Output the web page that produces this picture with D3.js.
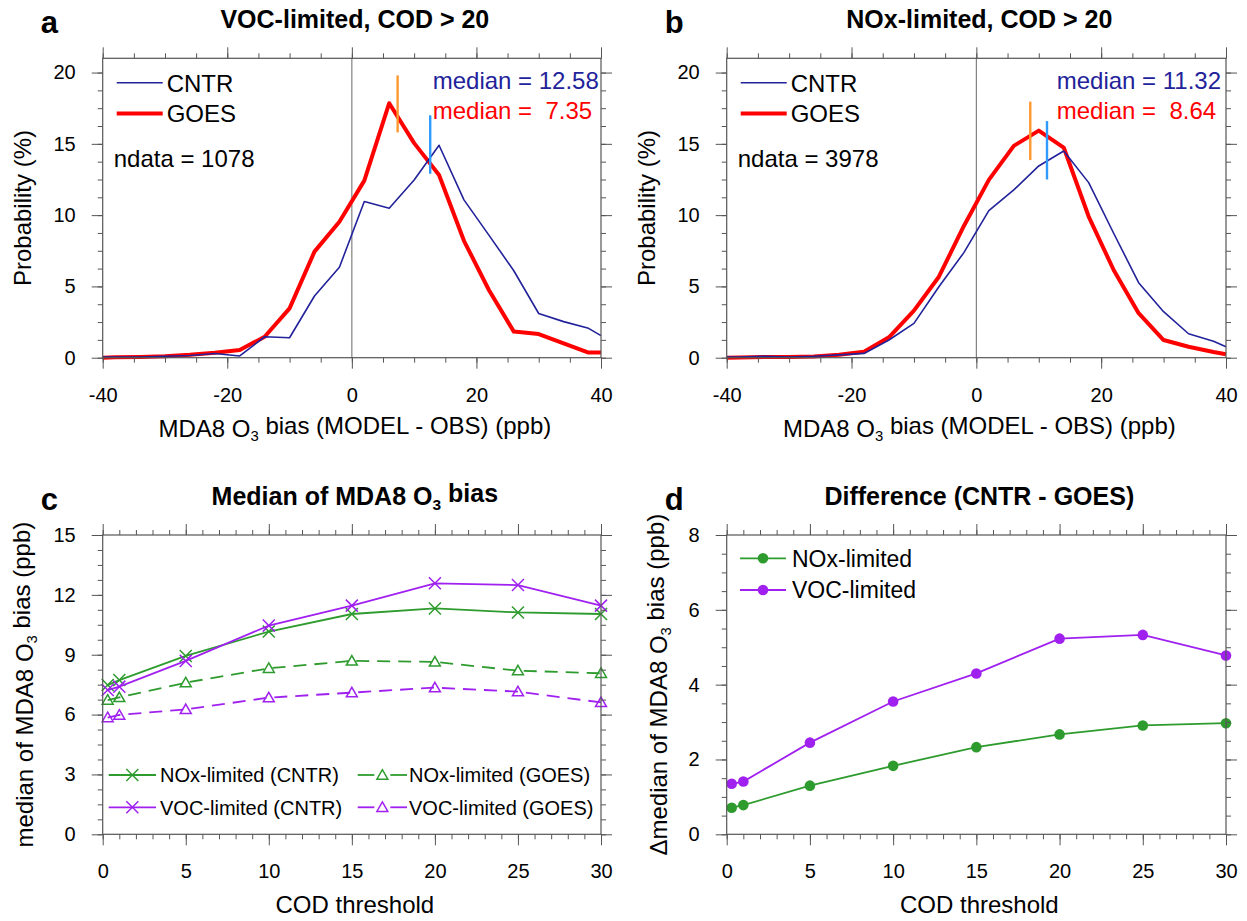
<!DOCTYPE html>
<html><head><meta charset="utf-8">
<script src="https://cdn.jsdelivr.net/npm/d3@7"></script>
<style>
body{margin:0;background:#fff;}
svg text{font-family:"Liberation Sans",Arial,Helvetica,sans-serif;}
</style></head><body>
<svg id="chart" width="1247" height="921" xmlns="http://www.w3.org/2000/svg"></svg>
<script>
// ---------------- data ----------------
const biasX   = [-40,-38,-34,-30,-26,-22,-18,-14,-10,-6,-2,2,6,10,14,18,22,26,30,34,38,40];
const vocCNTR = [0.05,0.05,0.05,0.1,0.15,0.3,0.12,1.47,1.4,4.33,6.34,10.95,10.48,12.46,14.9,11.07,8.6,6.1,3.1,2.53,2.06,1.55];
const vocGOES = [0.0,0.03,0.05,0.1,0.2,0.35,0.54,1.47,3.46,7.44,9.54,12.42,17.85,15.05,12.82,8.2,4.75,1.83,1.66,1.0,0.36,0.36];
const noxCNTR = [0.05,0.05,0.1,0.05,0.1,0.2,0.3,1.24,2.41,4.98,7.37,10.32,11.77,13.45,14.5,12.28,8.73,5.26,3.23,1.68,1.15,0.77];
const noxGOES = [0.0,0.02,0.05,0.05,0.08,0.2,0.42,1.43,3.3,5.68,9.24,12.47,14.86,15.93,14.74,9.9,6.15,3.12,1.24,0.77,0.4,0.24];

const histTitles  = ["VOC-limited, COD > 20", "NOx-limited, COD > 20"];
const histLetters = ["a", "b"];
const ndata       = [1078, 3978];
const medianCNTR  = [12.58, 11.32];
const medianGOES  = [7.35, 8.64];
const medMarkCNTR = [[12.9, 17.0], [12.5, 16.6]];
const medMarkGOES = [[15.8, 19.8], [13.86, 17.96]];
const seriesNames = ["CNTR", "GOES"];

const cod        = [0.3, 1, 5, 10, 15, 20, 25, 30];
const noxCNTRmed = [7.48, 7.73, 8.94, 10.16, 11.04, 11.32, 11.12, 11.04];
const vocCNTRmed = [7.23, 7.40, 8.69, 10.46, 11.46, 12.58, 12.49, 11.46];
const noxGOESmed = [6.73, 6.86, 7.60, 8.32, 8.69, 8.64, 8.20, 8.07];
const vocGOESmed = [5.85, 5.98, 6.26, 6.85, 7.10, 7.35, 7.15, 6.61];
const cLegend    = ["NOx-limited (CNTR)", "NOx-limited (GOES)", "VOC-limited (CNTR)", "VOC-limited (GOES)"];

const noxDiff = [0.71, 0.78, 1.30, 1.83, 2.33, 2.67, 2.91, 2.97];
const vocDiff = [1.35, 1.41, 2.45, 3.55, 4.30, 5.23, 5.33, 4.78];
const dLegend = ["NOx-limited", "VOC-limited"];

// ---------------- style ----------------
const FONT = '"Liberation Sans", Arial, Helvetica, sans-serif';
const C_BLUE = "#22229a", C_RED = "#ff0000", C_ORANGE = "#ff982e", C_LBLUE = "#2f9bff";
const C_GREEN = "#2e9b2e", C_PURPLE = "#a020f0", C_FRAME = "#555";

const svg = d3.select("#chart");
svg.append("rect").attr("width",1247).attr("height",921).attr("fill","#fff");

const frames = {
  a: {l:102.7, r:601,  t:58.3, b:357.7},
  b: {l:726.7, r:1226, t:58.3, b:357.7},
  c: {l:102.7, r:601,  t:535,  b:834.3},
  d: {l:726.7, r:1226, t:535,  b:834.3}
};

function richText(sel, parts) {
  parts.forEach(p => {
    const t = sel.append("tspan").text(p[0]);
    if (p[1] === "sub") t.attr("font-size", "0.62em").attr("dy", "0.32em");
    if (p[1] === "after") t.attr("dy", "-0.32em");
  });
  return sel;
}

function drawAxes(f, x, y, xMaj, xMin, yMaj, yMin) {
  const fmt = d => String(d);
  const mk = (gen, tr, vals, size, labels, pad) => {
    const a = svg.append("g").attr("transform", tr)
      .call(gen.tickValues(vals).tickSizeInner(size).tickSizeOuter(0).tickPadding(pad).tickFormat(labels ? fmt : ""));
    a.select(".domain").remove();
    a.attr("font-family", FONT).attr("font-size", 20);
    a.selectAll("line").attr("stroke", C_FRAME).attr("stroke-width", 1);
    a.selectAll("text").attr("fill", "#000");
    return a;
  };
  // minor
  mk(d3.axisBottom(x), `translate(0,${f.b})`, xMin, 5, false, 0);
  mk(d3.axisTop(x),    `translate(0,${f.t})`, xMin, 5, false, 0);
  mk(d3.axisLeft(y),   `translate(${f.l},0)`, yMin, 5, false, 0);
  mk(d3.axisRight(y),  `translate(${f.r},0)`, yMin, 5, false, 0);
  // major
  mk(d3.axisBottom(x), `translate(0,${f.b})`, xMaj, 11, true, 19);
  mk(d3.axisTop(x),    `translate(0,${f.t})`, xMaj, 11, false, 0);
  mk(d3.axisLeft(y),   `translate(${f.l},0)`, yMaj, 11, true, 16);
  mk(d3.axisRight(y),  `translate(${f.r},0)`, yMaj, 11, false, 0);
  svg.append("rect").attr("x", f.l).attr("y", f.t).attr("width", f.r - f.l).attr("height", f.b - f.t)
    .attr("fill", "none").attr("stroke", C_FRAME).attr("stroke-width", 1.2);
}

function panelText(f, letter, titleParts, xTitleParts, yTitleParts, yTitleOffset) {
  svg.append("text").attr("x", f.l - 62).attr("y", f.t - 25).attr("font-size", 31).attr("font-weight", "bold").text(letter);
  richText(svg.append("text").attr("x", (f.l + f.r) / 2 + 3).attr("y", f.t - 30).attr("text-anchor", "middle")
    .attr("font-size", 25).attr("font-weight", "bold"), titleParts);
  richText(svg.append("text").attr("x", (f.l + f.r) / 2 + 3).attr("y", f.b + 79).attr("text-anchor", "middle")
    .attr("font-size", 24), xTitleParts);
  richText(svg.append("text").attr("transform", `translate(${f.l - yTitleOffset},${(f.t + f.b) / 2}) rotate(-90)`)
    .attr("text-anchor", "middle").attr("font-size", 24), yTitleParts);
}

// ---------------- panels a, b ----------------
const histData = [[vocCNTR, vocGOES], [noxCNTR, noxGOES]];
["a", "b"].forEach((k, i) => {
  const f = frames[k];
  const x = d3.scaleLinear().domain([-40, 40]).range([f.l, f.r]);
  const y = d3.scaleLinear().domain([0, 21]).range([f.b, f.t]);
  // zero line
  svg.append("line").attr("x1", x(0)).attr("x2", x(0)).attr("y1", f.b).attr("y2", f.t)
    .attr("stroke", "#777").attr("stroke-width", 1.1);
  const line = d3.line().x((d, j) => x(biasX[j])).y(d => y(d));
  svg.append("path").attr("d", line(histData[i][1])).attr("fill", "none").attr("stroke", C_RED)
    .attr("stroke-width", 4).attr("stroke-linejoin", "round");
  svg.append("path").attr("d", line(histData[i][0])).attr("fill", "none").attr("stroke", C_BLUE)
    .attr("stroke-width", 1.6).attr("stroke-linejoin", "round");
  // median markers
  svg.append("line").attr("x1", x(medianGOES[i])).attr("x2", x(medianGOES[i]))
    .attr("y1", y(medMarkGOES[i][0])).attr("y2", y(medMarkGOES[i][1])).attr("stroke", C_ORANGE).attr("stroke-width", 2.4);
  svg.append("line").attr("x1", x(medianCNTR[i])).attr("x2", x(medianCNTR[i]))
    .attr("y1", y(medMarkCNTR[i][0])).attr("y2", y(medMarkCNTR[i][1])).attr("stroke", C_LBLUE).attr("stroke-width", 2.4);
  drawAxes(f, x, y, d3.range(-40, 41, 20), d3.range(-40, 41, 5), d3.range(0, 21, 5), d3.range(0, 21.01, 1.25));
  panelText(f, histLetters[i], [[histTitles[i]]],
    [["MDA8 O"], ["3", "sub"], [" bias (MODEL - OBS) (ppb)", "after"]],
    [["Probability (%)"]], 72);
  // legend
  const lx0 = f.l + 14, lx1 = f.l + 60;
  [[C_BLUE, 1.6, 82.7], [C_RED, 4, 113.5]].forEach((s, j) => {
    svg.append("line").attr("x1", lx0).attr("x2", lx1).attr("y1", s[2]).attr("y2", s[2])
      .attr("stroke", s[0]).attr("stroke-width", s[1]);
    svg.append("text").attr("x", lx1 + 4).attr("y", s[2] + 8.8).attr("font-size", 24).text(seriesNames[j]);
  });
  svg.append("text").attr("x", f.l + 11).attr("y", 167.3).attr("font-size", 24).text(`ndata = ${ndata[i]}`);
  const fm = v => d3.format("5.2f")(v);
  svg.append("text").attr("x", f.l + 330).attr("y", 88.5).attr("font-size", 24).attr("fill", C_BLUE)
    .attr("xml:space", "preserve").style("white-space", "pre").text(`median = ${fm(medianCNTR[i])}`);
  svg.append("text").attr("x", f.l + 330).attr("y", 118.5).attr("font-size", 24).attr("fill", C_RED)
    .attr("xml:space", "preserve").style("white-space", "pre").text(`median = ${fm(medianGOES[i])}`);
});

// ---------------- panel c ----------------
(function () {
  const f = frames.c;
  const x = d3.scaleLinear().domain([0, 30]).range([f.l, f.r]);
  const y = d3.scaleLinear().domain([0, 15]).range([f.b, f.t]);
  const line = d3.line().x((d, j) => x(cod[j])).y(d => y(d));
  const xSym = d3.symbol(d3.symbolX, 96)();
  const tSym = d3.symbol(d3.symbolTriangle, 52)();
  const series = [
    [noxCNTRmed, C_GREEN, null, xSym],
    [vocCNTRmed, C_PURPLE, null, xSym],
    [noxGOESmed, C_GREEN, "13,8", tSym],
    [vocGOESmed, C_PURPLE, "13,8", tSym]
  ];
  series.forEach(s => {
    svg.append("path").attr("d", line(s[0])).attr("fill", "none").attr("stroke", s[1]).attr("stroke-width", 1.8)
      .attr("stroke-dasharray", s[2]);
    svg.selectAll(null).data(s[0]).enter().append("path").attr("d", s[3])
      .attr("transform", (d, j) => `translate(${x(cod[j])},${y(d) + (s[3] === tSym ? 1 : 0)})`)
      .attr("fill", "none").attr("stroke", s[1]).attr("stroke-width", 1.5);
  });
  drawAxes(f, x, y, d3.range(0, 31, 5), d3.range(0, 31, 1), d3.range(0, 16, 3), d3.range(0, 15.01, 0.75));
  panelText(f, "c", [["Median of MDA8 O"], ["3", "sub"], [" bias", "after"]], [["COD threshold"]],
    [["median of MDA8 O"], ["3", "sub"], [" bias (ppb)", "after"]], 70);
  // legend
  const rows = [775, 807.3];
  const cols = [{x0: 108.7, x1: 156, tx: 160}, {x0: 357.7, x1: 407, tx: 409}];
  const lg = [[0, 0, C_GREEN, false], [0, 1, C_GREEN, true], [1, 0, C_PURPLE, false], [1, 1, C_PURPLE, true]];
  lg.forEach((g, j) => {
    const yy = rows[g[0]], c = cols[g[1]], mx = (c.x0 + c.x1) / 2;
    if (g[3]) {
      [[c.x0, mx - 8], [mx + 8, c.x1]].forEach(seg =>
        svg.append("line").attr("x1", seg[0]).attr("x2", seg[1]).attr("y1", yy).attr("y2", yy)
          .attr("stroke", g[2]).attr("stroke-width", 1.8));
    } else {
      svg.append("line").attr("x1", c.x0).attr("x2", c.x1).attr("y1", yy).attr("y2", yy)
        .attr("stroke", g[2]).attr("stroke-width", 1.8);
    }
    svg.append("path").attr("d", g[3] ? tSym : xSym).attr("transform", `translate(${mx},${yy + (g[3] ? 1 : 0)})`)
      .attr("fill", "none").attr("stroke", g[2]).attr("stroke-width", 1.5);
    svg.append("text").attr("x", c.tx).attr("y", yy + 7.3).attr("font-size", 20).text(cLegend[j]);
  });
})();

// ---------------- panel d ----------------
(function () {
  const f = frames.d;
  const x = d3.scaleLinear().domain([0, 30]).range([f.l, f.r]);
  const y = d3.scaleLinear().domain([0, 8]).range([f.b, f.t]);
  const line = d3.line().x((d, j) => x(cod[j])).y(d => y(d));
  [[noxDiff, C_GREEN], [vocDiff, C_PURPLE]].forEach(s => {
    svg.append("path").attr("d", line(s[0])).attr("fill", "none").attr("stroke", s[1]).attr("stroke-width", 1.8);
    svg.selectAll(null).data(s[0]).enter().append("circle")
      .attr("cx", (d, j) => x(cod[j])).attr("cy", d => y(d)).attr("r", 5.3).attr("fill", s[1]);
  });
  drawAxes(f, x, y, d3.range(0, 31, 5), d3.range(0, 31, 1), d3.range(0, 9, 2), d3.range(0, 8.01, 0.5));
  panelText(f, "d", [["Difference (CNTR - GOES)"]], [["COD threshold"]],
    [["\u0394median of MDA8 O"], ["3", "sub"], [" bias (ppb)", "after"]], 60);
  [[558.3, C_GREEN], [590, C_PURPLE]].forEach((r, j) => {
    svg.append("line").attr("x1", 740).attr("x2", 786).attr("y1", r[0]).attr("y2", r[0])
      .attr("stroke", r[1]).attr("stroke-width", 1.8);
    svg.append("circle").attr("cx", 763).attr("cy", r[0]).attr("r", 5.3).attr("fill", r[1]);
    svg.append("text").attr("x", 792).attr("y", r[0] + 8.3).attr("font-size", 23).text(dLegend[j]);
  });
})();
</script>
</body></html>
